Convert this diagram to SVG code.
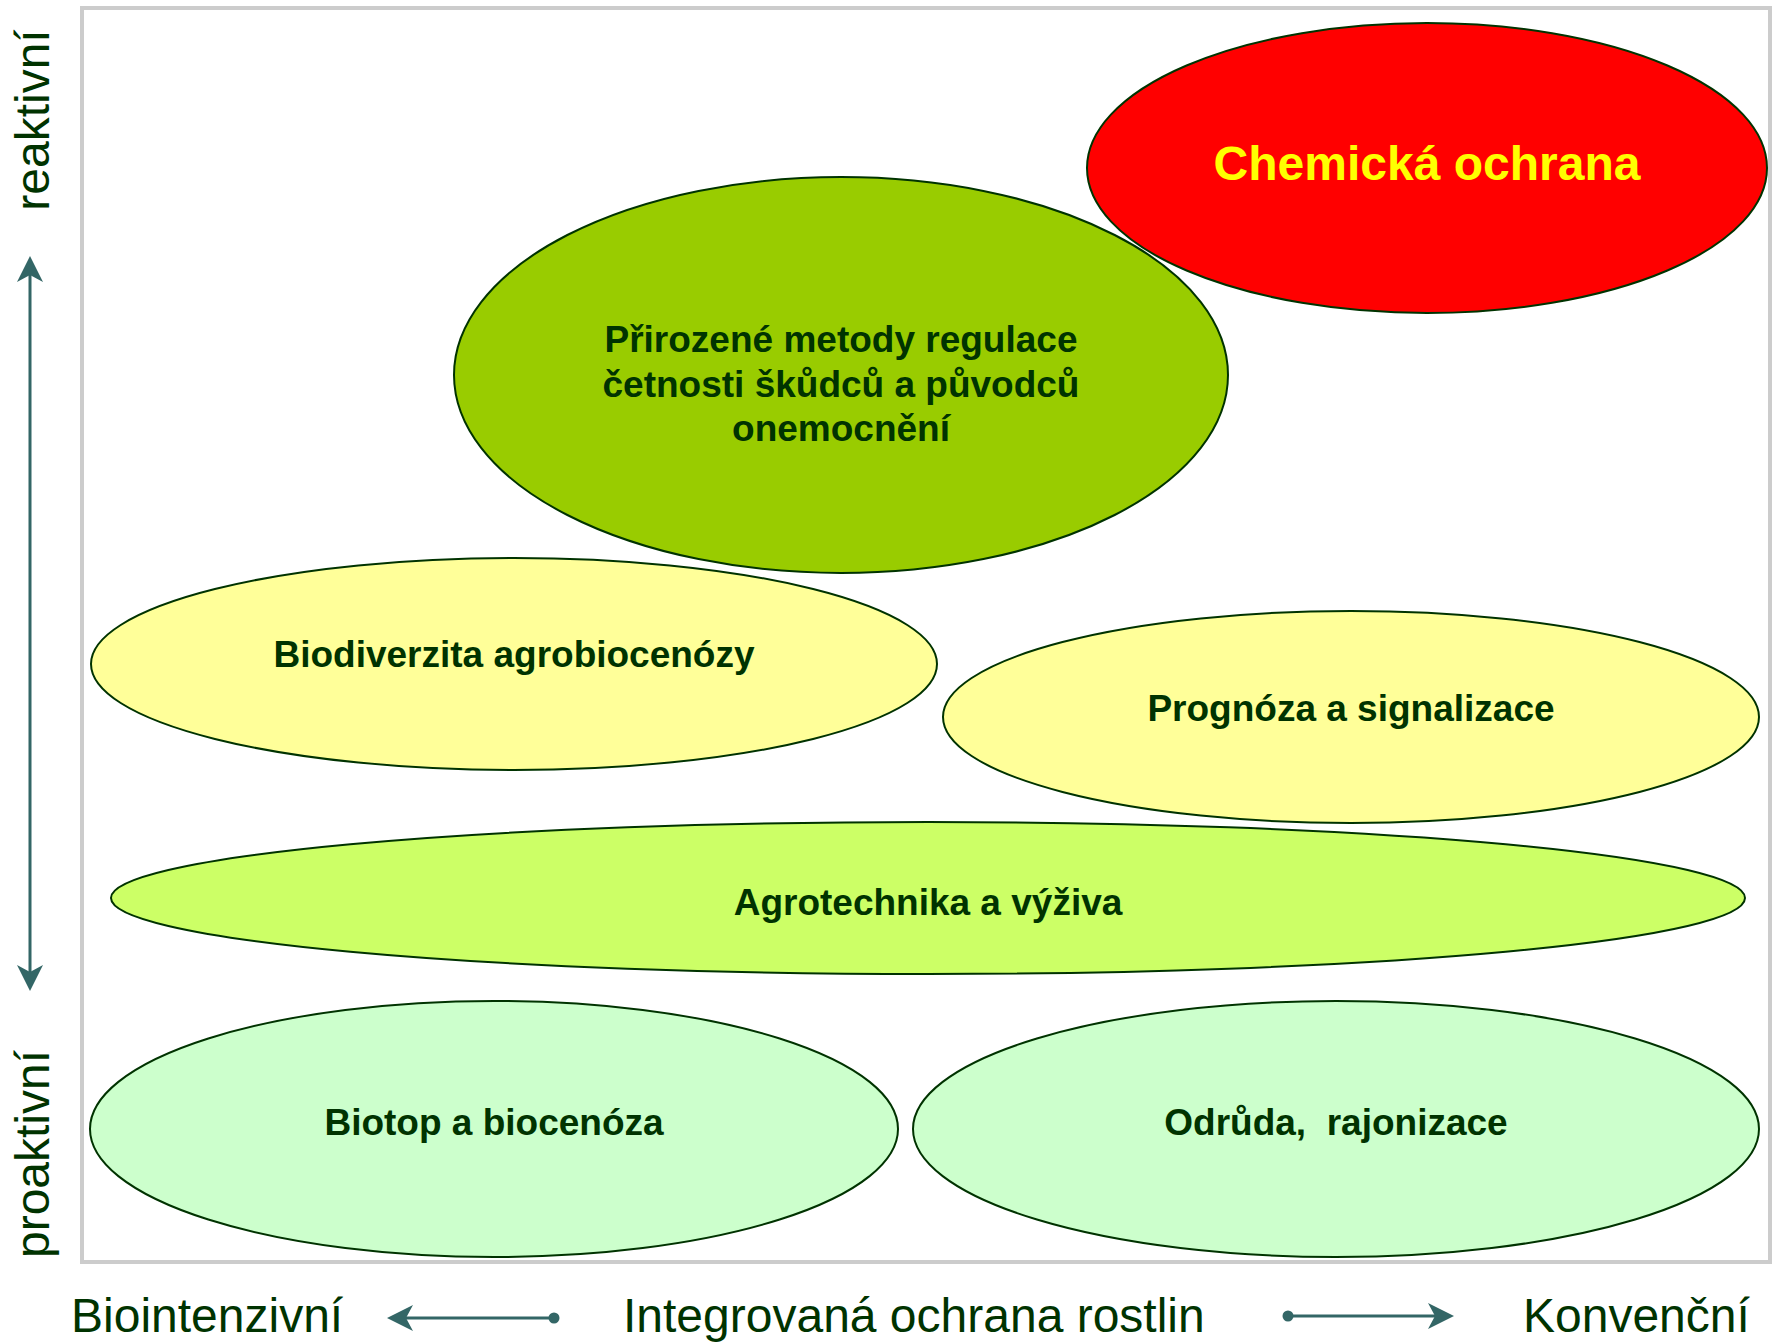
<svg xmlns="http://www.w3.org/2000/svg" width="1773" height="1343" viewBox="0 0 1773 1343">
  <style>
    .frame { fill: #ffffff; stroke: #cccccc; stroke-width: 4; }
    .node ellipse { stroke: #003300; stroke-width: 2; }
    .lbl { font-family: "Liberation Sans", Arial, sans-serif; font-weight: bold; font-size: 37px; fill: #003300; text-anchor: middle; }
    .axis { font-family: "Liberation Sans", Arial, sans-serif; font-size: 48px; fill: #003300; }
    .conn { stroke: #336666; stroke-width: 3; fill: none; }
  </style>
  <defs>
    <marker id="head" viewBox="0 0 26 26" refX="7" refY="13" markerWidth="26" markerHeight="26" markerUnits="userSpaceOnUse" orient="auto-start-reverse">
      <path d="M26,13 L0,0 L7,13 L0,26 Z" fill="#336666"/>
    </marker>
    <marker id="dot" viewBox="0 0 12 12" refX="6" refY="6" markerWidth="12" markerHeight="12" markerUnits="userSpaceOnUse">
      <circle cx="6" cy="6" r="5.5" fill="#336666"/>
    </marker>
  </defs>

  <rect class="frame" x="82" y="8" width="1688" height="1254"/>

  <g id="chemicka-ochrana" class="node">
    <ellipse cx="1427" cy="168" rx="340" ry="145" fill="#ff0000"/>
    <text class="lbl" x="1427" y="180" style="font-size:48px; fill:#ffff00">Chemická ochrana</text>
  </g>

  <g id="prirozene-metody" class="node">
    <ellipse cx="841" cy="375" rx="387" ry="198" fill="#99cc00"/>
    <text class="lbl" x="841" y="352">Přirozené metody regulace</text>
    <text class="lbl" x="841" y="397">četnosti škůdců a původců</text>
    <text class="lbl" x="841" y="441">onemocnění</text>
  </g>

  <g id="biodiverzita" class="node">
    <ellipse cx="514" cy="664" rx="423" ry="106" fill="#ffff99"/>
    <text class="lbl" x="514" y="667">Biodiverzita agrobiocenózy</text>
  </g>

  <g id="prognoza" class="node">
    <ellipse cx="1351" cy="717" rx="408" ry="106" fill="#ffff99"/>
    <text class="lbl" x="1351" y="721">Prognóza a signalizace</text>
  </g>

  <g id="agrotechnika" class="node">
    <ellipse cx="928" cy="898" rx="817" ry="76" fill="#ccff66"/>
    <text class="lbl" x="928" y="915">Agrotechnika a výživa</text>
  </g>

  <g id="biotop" class="node">
    <ellipse cx="494" cy="1129" rx="404" ry="128" fill="#ccffcc"/>
    <text class="lbl" x="494" y="1135">Biotop a biocenóza</text>
  </g>

  <g id="odruda" class="node">
    <ellipse cx="1336" cy="1129" rx="423" ry="128" fill="#ccffcc"/>
    <text class="lbl" x="1336" y="1135" xml:space="preserve">Odrůda,  rajonizace</text>
  </g>

  <!-- axis arrows -->
  <g id="connectors">
    <line class="conn" x1="30" y1="275" x2="30" y2="972" marker-start="url(#head)" marker-end="url(#head)"/>
    <line class="conn" x1="554" y1="1318" x2="406" y2="1318" marker-start="url(#dot)" marker-end="url(#head)"/>
    <line class="conn" x1="1288" y1="1316" x2="1435" y2="1316" marker-start="url(#dot)" marker-end="url(#head)"/>
  </g>

  <!-- axis labels -->
  <g id="axis-labels">
    <text class="axis" transform="translate(49,120) rotate(-90)" text-anchor="middle">reaktivní</text>
    <text class="axis" transform="translate(49,1154) rotate(-90)" text-anchor="middle">proaktivní</text>
    <text class="axis" x="71" y="1332">Biointenzivní</text>
    <text class="axis" x="623" y="1332">Integrovaná ochrana rostlin</text>
    <text class="axis" x="1523" y="1332">Konvenční</text>
  </g>
</svg>
